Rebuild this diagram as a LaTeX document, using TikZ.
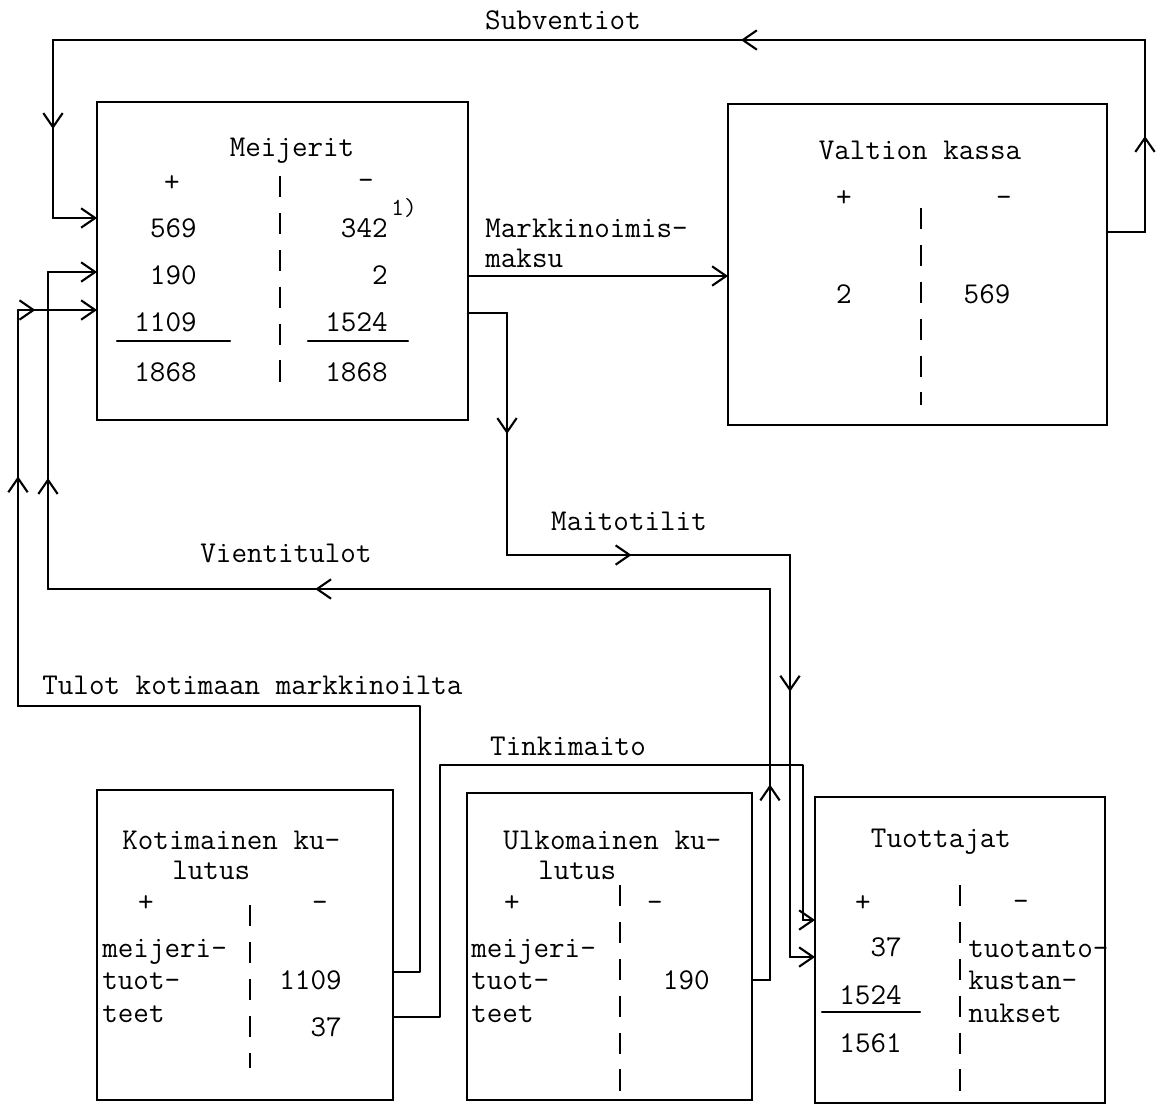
\documentclass[tikz,border=0pt]{standalone}
\usepackage{fontspec}
\usepackage{tikz}
\usetikzlibrary{arrows.meta,decorations.markings,positioning}
\tikzset{
    wire/.style={line width=1.2pt, line cap=round, line join=round},
    endtip/.style={-{Straight Barb[length=8pt,width=11pt]}},
    midtip/.style={postaction={decorate}, decoration={markings, mark=at position #1 with {\arrow{Straight Barb[length=8pt,width=11pt]}}}},
    box/.style={draw, line width=1.2pt, inner sep=0pt, outer sep=0pt},
    txt/.style={inner sep=0pt, text height=11pt, text depth=0pt},
    divider/.style={line width=1.6pt, dash pattern=on 12pt off 9pt}
}

\begin{document}
\begin{tikzpicture}[x=0.02cm, y=-0.02cm, font=\ttfamily\fontsize{17.2}{19}\selectfont]
                \useasboundingbox (0,0) rectangle (1166,1106);
                \node[box, minimum width=7.42cm, minimum height=6.36cm] (meij) at (282.5,261) {};
                \node[box, minimum width=7.58cm, minimum height=6.42cm] (valt) at (917.5,264.5) {};
                \node[box, minimum width=5.92cm, minimum height=6.2cm] (koti) at (245,945) {};
                \node[box, minimum width=5.7cm, minimum height=6.14cm] (ulko) at (609.5,946.5) {};
                \node[box, minimum width=5.8cm, minimum height=6.12cm] (tuot) at (960,950) {};
                \node[txt] (mt) at (292,147) {Meijerit};
                \node[txt] (mp) at (172,182) {+};
                \node[txt] (mm) at (366,180) {-};
                \node[txt, anchor=east] (ml1) at (197,228) {569};
                \node[txt, anchor=east] (ml2) at (197,275) {190};
                \node[txt, anchor=east] (ml3) at (197,322) {1109};
                \node[txt, anchor=east] (ml4) at (197,372) {1868};
                \node[txt, anchor=east] (mr1) at (388,228) {342};
                \node[txt, anchor=east] (mr2) at (388,275) {2};
                \node[txt, anchor=east] (mr3) at (388,322) {1524};
                \node[txt, anchor=east] (mr4) at (388,372) {1868};
                \node[txt, anchor=west, font=\ttfamily\fontsize{14}{14}\selectfont] (mfn) at (391,206) {1)};
                \draw[wire] (117,341) -- (230,341);
                \draw[wire] (308,341) -- (408,341);
                \draw[divider] (280,176) -- (280,395);
                \node[txt] (vt) at (920,150) {Valtion kassa};
                \node[txt] (vp) at (844,197) {+};
                \node[txt] (vm) at (1004,197) {-};
                \node[txt] (vl1) at (844,294) {2};
                \node[txt] (vr1) at (987,294) {569};
                \draw[divider] (921,208) -- (921,405);
                \node[txt, anchor=west] (kt1) at (122,840) {Kotimainen ku-};
                \node[txt, anchor=west] (kt2) at (172,870) {lutus};
                \node[txt] (kp) at (146,902) {+};
                \node[txt] (km) at (320,902) {-};
                \node[txt, anchor=west] (kl1) at (102,948) {meijeri-};
                \node[txt, anchor=west] (kl2) at (102,980) {tuot-};
                \node[txt, anchor=west] (kl3) at (102,1013) {teet};
                \node[txt, anchor=east] (kr1) at (342,980) {1109};
                \node[txt, anchor=east] (kr2) at (342,1027) {37};
                \draw[divider] (250,905) -- (250,1068);
                \node[txt, anchor=west] (ut1) at (503,840) {Ulkomainen ku-};
                \node[txt, anchor=west] (ut2) at (538,870) {lutus};
                \node[txt] (up) at (512,902) {+};
                \node[txt] (um) at (655,902) {-};
                \node[txt, anchor=west] (ul1) at (471,948) {meijeri-};
                \node[txt, anchor=west] (ul2) at (471,980) {tuot-};
                \node[txt, anchor=west] (ul3) at (471,1013) {teet};
                \node[txt, anchor=east] (ur1) at (710,980) {190};
                \draw[divider] (620,885) -- (620,1092);
                \node[txt] (tt) at (941,838) {Tuottajat};
                \node[txt] (tp) at (863,902) {+};
                \node[txt] (tm) at (1021,901) {-};
                \node[txt, anchor=east] (tl1) at (902,947) {37};
                \node[txt, anchor=east] (tl2) at (902,995) {1524};
                \node[txt, anchor=east] (tl3) at (902,1043) {1561};
                \draw[wire] (822,1012) -- (920,1012);
                \node[txt, anchor=west] (tr1) at (968,948) {tuotanto-};
                \node[txt, anchor=west] (tr2) at (968,980) {kustan-};
                \node[txt, anchor=west] (tr3) at (968,1013) {nukset};
                \draw[divider] (960,885) -- (960,1100);
                \node[txt] (subv) at (563,20) {Subventiot};
                \node[txt, anchor=west] (mk1) at (485,228) {Markkinoimis-};
                \node[txt, anchor=west] (mk2) at (485,258) {maksu};
                \node[txt] (mait) at (629,521) {Maitotilit};
                \node[txt] (vien) at (286,553) {Vientitulot};
                \node[txt, anchor=west] (tulo) at (42,685) {Tulot kotimaan markkinoilta};
                \node[txt] (tink) at (568,746) {Tinkimaito};
                \coordinate (s1) at (1145,232);
                \coordinate (s2) at (1145,40);
                \coordinate (s3) at (53,40);
                \coordinate (s4) at (53,218);
                \draw[wire] (valt.east |- s1) -- (s1);
                \draw[wire, midtip=.5] (s1) -- (s2);
                \draw[wire, midtip=.37] (s2) -- (s3);
                \draw[wire, midtip=.5] (s3) -- (s4);
                \draw[wire, endtip] (s4) -- (meij.west |- s4);
                \coordinate (mk) at (600,276);
                \draw[wire, endtip] (meij.east |- mk) -- (valt.west |- mk);
                \coordinate (m1) at (507,313);
                \coordinate (m2) at (507,555);
                \coordinate (m3) at (790,555);
                \coordinate (m4) at (790,957);
                \draw[wire] (meij.east |- m1) -- (m1);
                \draw[wire, midtip=.5] (m1) -- (m2);
                \draw[wire, midtip=.44] (m2) -- (m3);
                \draw[wire, midtip=.34] (m3) -- (m4);
                \draw[wire, endtip] (m4) -- (tuot.west |- m4);
                \coordinate (t1) at (440,1017);
                \coordinate (t2) at (440,765);
                \coordinate (t3) at (803,765);
                \coordinate (t4) at (803,920);
                \draw[wire] (koti.east |- t1) -- (t1) -- (t2) -- (t3) -- (t4);
                \draw[wire, endtip] (t4) -- (tuot.west |- t4);
                \coordinate (v1) at (770,980);
                \coordinate (v2) at (770,589);
                \coordinate (v3) at (48,589);
                \coordinate (v4) at (48,272);
                \draw[wire] (ulko.east |- v1) -- (v1);
                \draw[wire, midtip=.5] (v1) -- (v2);
                \draw[wire, midtip=.63] (v2) -- (v3);
                \draw[wire, midtip=.35] (v3) -- (v4);
                \draw[wire, endtip] (v4) -- (meij.west |- v4);
                \coordinate (k1) at (420,972);
                \coordinate (k2) at (420,706);
                \coordinate (k3) at (18,706);
                \coordinate (k4) at (18,310);
                \draw[wire] (koti.east |- k1) -- (k1) -- (k2) -- (k3);
                \draw[wire, midtip=.58] (k3) -- (k4);
                \draw[wire, midtip=.22, endtip] (k4) -- (meij.west |- k4);
            \end{tikzpicture}
\end{document}
